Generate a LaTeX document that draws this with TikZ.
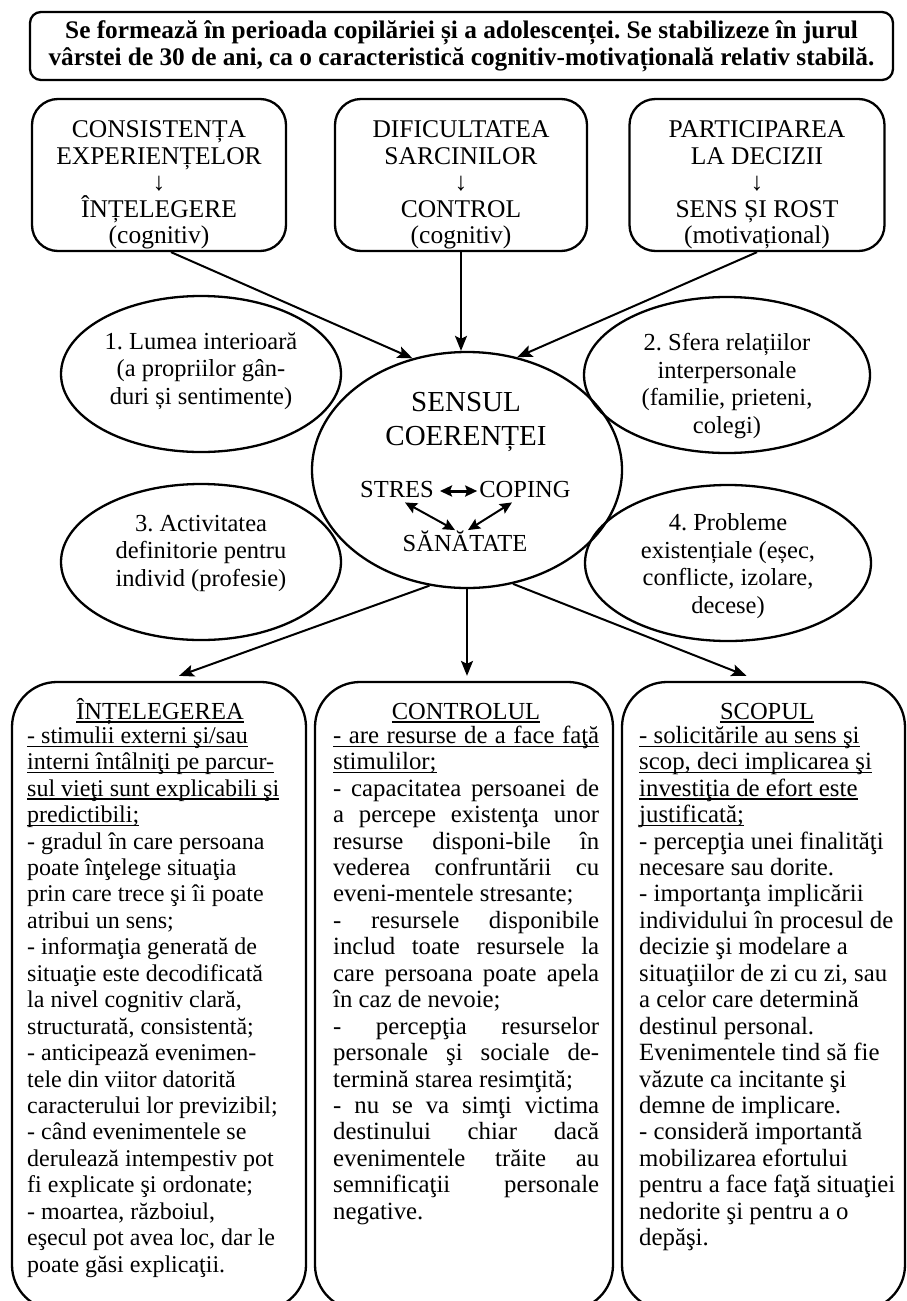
\documentclass[tikz,border=0pt]{standalone}
\usepackage{fontspec}
\setmainfont{Liberation Serif}
\usetikzlibrary{shapes.geometric,arrows.meta,calc}
% a justified line of the middle column
\newcommand\jline[1]{\makebox[266pt][s]{#1}}
% underlined text with a fixed rule depth
\newsavebox\ulbox
\newcommand\uln[1]{\sbox\ulbox{#1}\rlap{\rule[-3.5pt]{\wd\ulbox}{1.2pt}}\usebox\ulbox}
\begin{document}
\frenchspacing
\lineskiplimit=-100pt
\begin{tikzpicture}[x=1pt,y=-1pt,
  line join=round,
  boxline/.style={draw, line width=2.3pt, inner sep=0pt},
  txt/.style={font=\fontsize{24.5}{27.5}\selectfont, align=center, inner sep=0pt},
  srctxt/.style={font=\fontsize{25.5}{26.5}\selectfont, align=center, inner sep=0pt},
  coltext/.style={align=left, inner sep=0pt, anchor=north west},
  coltitle/.style={font=\fontsize{24.5}{26.45}\selectfont, inner sep=0pt, anchor=base},
  conn/.style={line width=2pt, -{Stealth[length=15pt,width=12pt,inset=3pt]}},
  twoway/.style={line width=2pt, {Stealth[length=12pt,width=11pt,inset=2pt]}-{Stealth[length=12pt,width=11pt,inset=2pt]}},
]
\useasboundingbox (0,0) rectangle (907,1301);
\clip (0,0) rectangle (907,1301);

% heading
\node[boxline, rounded corners=11pt, minimum width=863pt, minimum height=68pt,
      align=center, font=\bfseries\fontsize{25.3}{27}\selectfont] (head) at (461.5,46)
  {Se formează în perioada copilăriei și a adolescenței. Se stabilizeze în jurul\\
   vârstei de 30 de ani, ca o caracteristică cognitiv-motivațională relativ stabilă.};

% three sources
\node[boxline, rounded corners=26pt, minimum width=254pt, minimum height=152pt] (tl) at (159,175) {};
\node[srctxt] (tlt) at (159,185) {CONSISTENȚA\\EXPERIENȚELOR\\↓\\ÎNȚELEGERE\\(cognitiv)};
\node[boxline, rounded corners=26pt, minimum width=252pt, minimum height=152pt] (tm) at (461,175) {};
\node[srctxt] (tmt) at (461,185) {DIFICULTATEA\\SARCINILOR\\↓\\CONTROL\\(cognitiv)};
\node[boxline, rounded corners=26pt, minimum width=255pt, minimum height=152pt] (tr) at (757,175) {};
\node[srctxt] (trt) at (757,185) {PARTICIPAREA\\LA DECIZII\\↓\\SENS ȘI ROST\\(motivațional)};

% life domains
\node[boxline, ellipse, minimum width=280pt, minimum height=156pt] (e1) at (201,374) {};
\node[txt] (e1t) at (201,371) {1. Lumea interioară\\(a propriilor gân-\\duri și sentimente)};
\node[boxline, ellipse, minimum width=286pt, minimum height=156pt] (e2) at (727,375) {};
\node[txt] (e2t) at (727,386) {2. Sfera relațiilor\\interpersonale\\(familie, prieteni,\\colegi)};
\node[boxline, ellipse, minimum width=280pt, minimum height=156pt] (e3) at (201,562) {};
\node[txt] (e3t) at (201,553) {3. Activitatea\\definitorie pentru\\individ (profesie)};
\node[boxline, ellipse, minimum width=286pt, minimum height=156pt] (e4) at (728,563) {};
\node[txt] (e4t) at (728,566) {4. Probleme\\existențiale (eșec,\\conflicte, izolare,\\decese)};

% centre
\node[boxline, ellipse, minimum width=310pt, minimum height=236pt] (c) at (467,470) {};
\node[txt, font=\fontsize{29}{34}\selectfont] (sc) at (466,422) {SENSUL\\COERENȚEI};
\node[txt, anchor=base] (st) at (397,497) {STRES};
\node[txt, anchor=base] (cp) at (525,497) {COPING};
\node[txt, anchor=base] (sa) at (465,551) {SĂNĂTATE};
\draw[twoway, line width=3pt] ($(st.east)+(6,2)$) -- ($(cp.west)+(-2,2)$);
\draw[twoway] ($(st.south)+(8,5)$) -- ($(sa.north)+(-10,0)$);
\draw[twoway] ($(cp.south)+(-13,5)$) -- ($(sa.north)+(3,0)$);

% three components
\node[boxline, rounded corners=45pt, minimum width=294pt, minimum height=628pt] (bl) at (159,996) {};
\node[boxline, rounded corners=45pt, minimum width=298pt, minimum height=628pt] (bm) at (464,996) {};
\node[boxline, rounded corners=45pt, minimum width=283pt, minimum height=628pt] (br) at (763.5,996) {};

\node[coltitle] (blh) at (160,719) {\uln{ÎNȚELEGEREA}};
\node[coltitle] (bmh) at (466,719) {\uln{CONTROLUL}};
\node[coltitle] (brh) at (767,719) {\uln{SCOPUL}};

\node[coltext, font=\fontsize{24}{26.45}\selectfont] (blt) at (27,719) {\rule{0pt}{24pt}\uln{- stimulii externi şi/sau}\\
\uln{interni întâlniţi pe parcur-}\\
\uln{sul vieţi sunt explicabili şi}\\
\uln{predictibili;}\\
- gradul în care persoana\\
poate înţelege situaţia\\
prin care trece şi îi poate\\
atribui un sens;\\
- informaţia generată de\\
situaţie este decodificată\\
la nivel cognitiv clară,\\
structurată, consistentă;\\
- anticipează evenimen-\\
tele din viitor datorită\\
caracterului lor previzibil;\\
- când evenimentele se\\
derulează intempestiv pot\\
fi explicate şi ordonate;\\
- moartea, războiul,\\
eşecul pot avea loc, dar le\\
poate găsi explicaţii.};

\node[coltext, font=\fontsize{24.8}{26.45}\selectfont] (bmt) at (333,719) {\rule{0pt}{24pt}\uln{\jline{- are resurse de a face faţă}}\\
\uln{stimulilor;}\\
\jline{- capacitatea persoanei de}\\
\jline{a percepe existenţa unor}\\
\jline{resurse disponi-bile în}\\
\jline{vederea confruntării cu}\\
eveni-mentele stresante;\\
\jline{- resursele disponibile}\\
\jline{includ toate resursele la}\\
\jline{care persoana poate apela}\\
în caz de nevoie;\\
\jline{- percepţia resurselor}\\
\jline{personale şi sociale de-}\\
termină starea resimţită;\\
\jline{- nu se va simţi victima}\\
\jline{destinului chiar dacă}\\
\jline{evenimentele trăite au}\\
\jline{semnificaţii personale}\\
negative.};

\node[coltext, font=\fontsize{24.8}{26.45}\selectfont] (brt) at (639,719) {\rule{0pt}{24pt}\uln{- solicitările au sens şi}\\
\uln{scop, deci implicarea şi}\\
\uln{investiţia de efort este}\\
\uln{justificată;}\\
- percepţia unei finalităţi\\
necesare sau dorite.\\
- importanţa implicării\\
individului în procesul de\\
decizie şi modelare a\\
situaţiilor de zi cu zi, sau\\
a celor care determină\\
destinul personal.\\
Evenimentele tind să fie\\
văzute ca incitante şi\\
demne de implicare.\\
- consideră importantă\\
mobilizarea efortului\\
pentru a face faţă situaţiei\\
nedorite şi pentru a o\\
depăşi.};

% connectors
\draw[conn] ($(tl.south)+(12,0)$) -- (c.116);
\draw[conn] (tm.south) -- (tm.south |- c.north);
\draw[conn] (tr.south) -- (c.66);
\draw[conn] (c.-108) -- ($(bl.north)+(20,-5)$);
\draw[conn] (c.south) -- ($(c.south |- bm.north)+(0,-5)$);
\draw[conn] (c.-68) -- ($(br.north)+(-17,-5)$);
\end{tikzpicture}
\end{document}
